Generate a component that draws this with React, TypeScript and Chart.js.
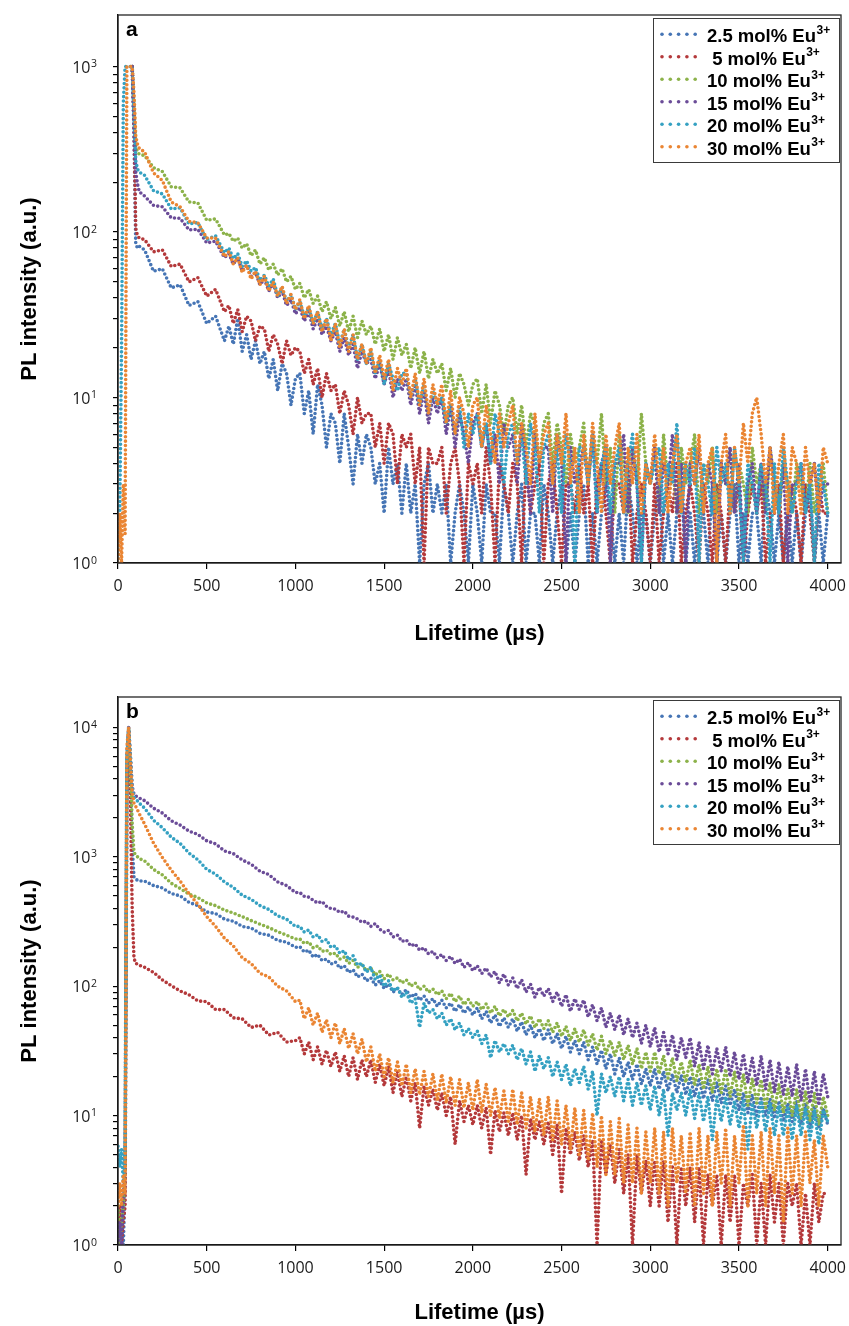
import React, { useEffect, useRef } from "react";
import { Chart, registerables } from "chart.js";

Chart.register(...registerables);

// ---------- time axes (µs) ----------
const TIME_A = [
  0, 10, 20, 30, 40, 50, 60, 70, 80, 90, 100, 110, 120,
  150, 200, 250, 300, 350, 400, 450, 500, 550, 600,
  625, 650, 675, 700, 725, 750, 775, 800,
  825, 850, 875, 900, 925, 950, 975, 1000,
  1025, 1050, 1075, 1100, 1125, 1150, 1175, 1200,
  1225, 1250, 1275, 1300, 1325, 1350, 1375, 1400,
  1425, 1450, 1475, 1500, 1525, 1550, 1575, 1600,
  1625, 1650, 1675, 1700, 1725, 1750, 1775, 1800,
  1825, 1850, 1875, 1900, 1925, 1950, 1975, 2000,
  2025, 2050, 2075, 2100, 2125, 2150, 2175, 2200,
  2225, 2250, 2275, 2300, 2325, 2350, 2375, 2400,
  2425, 2450, 2475, 2500, 2525, 2550, 2575, 2600,
  2625, 2650, 2675, 2700, 2725, 2750, 2775, 2800,
  2825, 2850, 2875, 2900, 2925, 2950, 2975, 3000,
  3025, 3050, 3075, 3100, 3125, 3150, 3175, 3200,
  3225, 3250, 3275, 3300, 3325, 3350, 3375, 3400,
  3425, 3450, 3475, 3500, 3525, 3550, 3575, 3600,
  3625, 3650, 3675, 3700, 3725, 3750, 3775, 3800,
  3825, 3850, 3875, 3900, 3925, 3950, 3975, 4000,
];

const TIME_B = [
  0, 10, 20, 30, 40, 50, 60, 70, 80, 90, 100, 110, 120,
  150, 200, 250, 300, 350, 400, 450, 500, 550, 600,
  650, 700, 750, 800, 850, 900, 950, 1000,
  1025, 1050, 1075, 1100, 1125, 1150, 1175, 1200,
  1225, 1250, 1275, 1300, 1325, 1350, 1375, 1400,
  1425, 1450, 1475, 1500, 1525, 1550, 1575, 1600,
  1625, 1650, 1675, 1700, 1725, 1750, 1775, 1800,
  1825, 1850, 1875, 1900, 1925, 1950, 1975, 2000,
  2025, 2050, 2075, 2100, 2125, 2150, 2175, 2200,
  2225, 2250, 2275, 2300, 2325, 2350, 2375, 2400,
  2425, 2450, 2475, 2500, 2525, 2550, 2575, 2600,
  2625, 2650, 2675, 2700, 2725, 2750, 2775, 2800,
  2825, 2850, 2875, 2900, 2925, 2950, 2975, 3000,
  3025, 3050, 3075, 3100, 3125, 3150, 3175, 3200,
  3225, 3250, 3275, 3300, 3325, 3350, 3375, 3400,
  3425, 3450, 3475, 3500, 3525, 3550, 3575, 3600,
  3625, 3650, 3675, 3700, 3725, 3750, 3775, 3800,
  3825, 3850, 3875, 3900, 3925, 3950, 3975, 4000,
];

const LEGEND_LABELS = ["2.5 mol% Eu", " 5 mol% Eu", "10 mol% Eu", "15 mol% Eu", "20 mol% Eu", "30 mol% Eu"];
const LEGEND_SUP = "3+";
const SERIES_COLORS = ["#4675b5", "#b4393b", "#8cb24a", "#6b4c98", "#35a1c2", "#ea8533"];

const X_TICKS = [0, 500, 1000, 1500, 2000, 2500, 3000, 3500, 4000];
const Y_TICKS_A = [1, 2, 3, 4, 5, 6, 7, 8, 9, 10, 20, 30, 40, 50, 60, 70, 80, 90, 100, 200, 300, 400, 500, 600, 700, 800, 900, 1000];
const Y_MAJOR_A = [1, 10, 100, 1000];
const Y_TICKS_B = [1, 2, 3, 4, 5, 6, 7, 8, 9, 10, 20, 30, 40, 50, 60, 70, 80, 90, 100, 200, 300, 400, 500, 600, 700, 800, 900, 1000, 2000, 3000, 4000, 5000, 6000, 7000, 8000, 9000, 10000];
const Y_MAJOR_B = [1, 10, 100, 1000, 10000];

// ---------- panel a (PL intensity, counts) ----------
const A_2_5 = [
  null, null, null, null, null, null, null, null, 1000, 400, 85, 80, 82,
  78, 58, 60, 46, 48, 36, 38, 28, 31, 22,
  27, 21, 30, 19, 24, 17, 22, 16,
  19, 13, 17, 11, 16, 14, 9, 13,
  14, 8, 11, 6, 12, 9, 5, 8,
  7, 4, 8, 5, 3, 6, 4, 6,
  5, 3, 4, 2, 5, 3, 4, 2,
  4, 2, 3, 1, 3, 4, 2, 3,
  2, 3, 1, 2, 3, 2, 1, 3,
  2, 1, 3, 2, 2, 1, 3, 2,
  1, 2, 3, 1, 2, 2, 1, 3,
  2, 1, 2, 3, 1, 2, 1, 2,
  3, 1, 2, 1, 2, 3, 2, 1,
  2, 1, 3, 2, 1, 2, 2, 1,
  2, 3, 1, 2, 1, 2, 3, 1,
  2, 1, 2, 2, 1, 3, 1, 2,
  1, 2, 3, 1, 2, 1, 2, 2,
  1, 3, 2, 1, 2, 1, 2, 1,
  2, 1, 2, 3, 1, 2, 1, 2,
];
const A_5 = [
  null, null, null, null, null, null, null, null, 1000, 450, 105, 95, 92,
  90, 76, 78, 62, 64, 50, 53, 41, 45, 33,
  36, 28, 34, 25, 31, 29, 22, 27,
  26, 19, 24, 21, 16, 22, 18, 20,
  19, 14, 17, 12, 15, 10, 14, 11,
  12, 8, 11, 9, 6, 10, 7, 8,
  8, 5, 7, 4, 7, 6, 3, 6,
  5, 6, 3, 5, 1, 5, 4, 4,
  5, 2, 4, 5, 3, 1, 4, 3,
  4, 2, 5, 3, 1, 4, 3, 2,
  4, 3, 1, 4, 2, 3, 4, 1,
  3, 4, 2, 1, 3, 3, 2, 4,
  2, 3, 1, 3, 4, 2, 1, 3,
  3, 2, 4, 1, 2, 3, 2, 1,
  3, 1, 2, 3, 2, 4, 1, 2,
  3, 2, 1, 3, 2, 1, 3, 2,
  1, 3, 2, 3, 1, 2, 3, 2,
  3, 1, 2, 2, 3, 1, 2, 3,
  2, 1, 3, 2, 1, 3, 2, 2,
];
const A_10 = [
  null, null, null, null, null, null, null, null, 1000, 600, 330, 305, 295,
  290, 245, 232, 188, 185, 152, 150, 118, 120, 96,
  98, 88, 92, 80, 85, 72, 78, 64,
  70, 59, 64, 55, 60, 50, 54, 45,
  49, 40, 45, 37, 41, 33, 38, 30,
  35, 27, 33, 25, 31, 23, 29, 24,
  27, 21, 26, 19, 24, 17, 23, 18,
  21, 15, 20, 14, 19, 13, 17, 14,
  16, 11, 15, 10, 14, 12, 9, 12,
  13, 8, 12, 7, 11, 9, 6, 9,
  10, 6, 9, 5, 8, 7, 4, 7,
  8, 4, 7, 5, 3, 6, 4, 5,
  7, 3, 6, 4, 8, 3, 5, 2,
  6, 4, 2, 5, 3, 8, 4, 3,
  5, 2, 6, 3, 4, 2, 5, 3,
  4, 6, 2, 4, 3, 5, 2, 4,
  3, 5, 2, 4, 3, 2, 5, 3,
  4, 2, 5, 3, 2, 4, 3, 2,
  4, 3, 2, 4, 2, 3, 4, 2,
];
const A_15 = [
  null, null, null, null, null, null, null, null, 1000, 500, 230, 195, 175,
  165, 145, 142, 122, 121, 103, 104, 86, 88, 70,
  74, 64, 70, 58, 63, 54, 57, 48,
  52, 44, 49, 40, 44, 36, 39, 32,
  35, 29, 33, 26, 30, 24, 27, 22,
  25, 19, 23, 18, 21, 15, 19, 16,
  17, 13, 16, 12, 15, 10, 13, 11,
  13, 9, 12, 8, 11, 7, 10, 8,
  10, 6, 9, 5, 8, 6, 4, 7,
  8, 5, 7, 4, 6, 3, 7, 5,
  6, 3, 7, 4, 2, 6, 4, 5,
  5, 2, 6, 4, 1, 5, 3, 4,
  5, 3, 6, 2, 4, 5, 1, 4,
  4, 6, 2, 5, 3, 1, 4, 3,
  5, 2, 4, 3, 6, 2, 4, 1,
  4, 3, 5, 2, 4, 3, 1, 4,
  3, 5, 2, 4, 1, 3, 4, 2,
  4, 2, 5, 3, 2, 4, 1, 3,
  3, 4, 2, 3, 4, 2, 3, 3,
];
const A_20 = [
  1, 2, 20, 600, 1000, 1000, 1000, 1000, 1000, 500, 270, 240, 230,
  220, 178, 170, 138, 140, 112, 114, 90, 95, 75,
  80, 69, 74, 62, 67, 58, 61, 51,
  55, 47, 52, 41, 46, 38, 42, 34,
  38, 31, 35, 28, 33, 26, 30, 24,
  28, 21, 26, 20, 24, 17, 21, 16,
  19, 14, 17, 12, 16, 13, 11, 14,
  14, 10, 13, 9, 12, 8, 11, 9,
  10, 7, 9, 6, 9, 5, 8, 6,
  8, 5, 7, 4, 8, 6, 3, 6,
  7, 4, 6, 3, 7, 5, 2, 5,
  6, 3, 5, 2, 6, 4, 1, 5,
  5, 3, 6, 2, 4, 5, 2, 4,
  5, 2, 4, 6, 3, 1, 4, 3,
  4, 5, 2, 4, 3, 7, 2, 4,
  3, 5, 1, 4, 3, 2, 5, 3,
  4, 2, 5, 3, 1, 4, 3, 2,
  4, 3, 1, 4, 2, 5, 3, 2,
  3, 4, 2, 3, 1, 4, 3, 2,
];
const A_30 = [
  1, 2, 1, 3, 1.5, 1000, 1000, 1000, 1000, 700, 380, 340, 320,
  305, 228, 205, 152, 142, 116, 114, 92, 92, 71,
  76, 64, 70, 57, 63, 52, 58, 48,
  54, 44, 50, 41, 47, 37, 42, 34,
  39, 30, 36, 28, 33, 25, 30, 22,
  28, 20, 26, 19, 24, 17, 21, 16,
  20, 14, 18, 13, 17, 11, 15, 12,
  15, 10, 14, 9, 13, 8, 12, 9,
  12, 7, 11, 6, 10, 8, 5, 9,
  10, 5, 9, 6, 4, 8, 5, 7,
  9, 4, 7, 5, 3, 8, 4, 6,
  7, 3, 6, 4, 8, 3, 5, 2,
  6, 3, 7, 4, 2, 6, 3, 5,
  7, 2, 5, 3, 6, 2, 4, 3,
  6, 3, 5, 2, 4, 6, 2, 4,
  5, 3, 6, 2, 4, 5, 1, 4,
  6, 2, 5, 3, 7, 4, 8, 10,
  6, 3, 5, 2, 4, 6, 2, 5,
  4, 2, 5, 3, 4, 2, 5, 4,
];

// ---------- panel b (PL intensity, counts) ----------
const B_2_5 = [
  1.5, 1, 2, 1, 3, 5000, 9800, 4000, 1200, 700, 670, 660, 650,
  650, 600, 575, 520, 500, 445, 420, 375, 365, 330,
  318, 290, 282, 256, 248, 226, 219, 200,
  202, 184, 190, 168, 176, 158, 162, 148,
  154, 138, 144, 128, 134, 118, 124, 110,
  116, 102, 110, 96, 104, 90, 96, 86,
  94, 82, 88, 78, 84, 74, 80, 70,
  78, 68, 74, 64, 72, 62, 69, 60,
  68, 56, 64, 52, 60, 49, 57, 48,
  56, 45, 53, 42, 50, 40, 47, 38,
  46, 36, 43, 33, 41, 31, 38, 30,
  37, 27, 34, 25, 32, 23, 30, 21,
  28, 20, 26, 19, 25, 17.5, 23, 17,
  23, 16, 22, 15.5, 21, 15, 20.5, 14.5,
  20, 14, 19.5, 13.5, 19, 13, 18, 12.5,
  17, 12, 16, 11, 15, 10.5, 14.5, 10,
  14, 10, 13.5, 9.5, 13, 9, 12.5, 9,
  13, 8.5, 12.5, 8, 12, 8, 11.5, 8.5,
];
const B_5 = [
  1, 2, 1, 1.5, 2, 3000, 9500, 2500, 400, 165, 150, 148, 145,
  140, 128, 112, 101, 92, 86, 77, 76, 66, 66,
  57, 56, 48, 50, 42, 44, 37, 38,
  40, 30, 37, 27, 34, 25, 32, 24,
  31, 22, 29, 20, 28, 19, 27, 20,
  27, 18, 25, 17, 24, 15, 22, 14,
  20, 13, 18, 8, 17, 12, 16, 11,
  15, 10, 14, 6, 13, 9, 12, 8.5,
  12, 8, 11.5, 5, 11, 7.5, 10.5, 7,
  10.5, 6.5, 10, 3.5, 9.5, 6.5, 9, 6,
  9, 5, 8.5, 2.5, 8, 5, 7.5, 4.5,
  7, 4, 6.5, 1, 6.5, 3.5, 6, 3,
  5.5, 2.5, 5, 1, 5, 2.5, 4.5, 2,
  4.5, 2, 4.5, 1.5, 4, 1, 4, 2,
  4, 1.5, 4, 1, 3.5, 2, 3.5, 1,
  3.5, 1.5, 3.5, 1, 3, 2, 3.5, 1,
  3, 1, 3.5, 1.5, 3, 1, 3, 2,
  3, 1, 2.5, 1, 3, 1.5, 2.5, 2.5,
];
const B_10 = [
  2, 1, 1.5, 2, 4, 5000, 9900, 5000, 1800, 1080, 1040, 1000, 970,
  930, 800, 725, 625, 570, 515, 485, 440, 420, 388,
  368, 345, 322, 302, 284, 264, 248, 232,
  232, 214, 220, 198, 205, 186, 190, 176,
  180, 162, 168, 150, 158, 140, 146, 132,
  138, 122, 130, 114, 124, 112, 116, 106,
  112, 100, 106, 94, 100, 90, 95, 86,
  92, 80, 88, 76, 84, 72, 79, 70,
  76, 66, 73, 62, 70, 59, 66, 58,
  65, 54, 62, 51, 59, 48, 56, 47,
  54, 44, 52, 41, 49, 38, 47, 37,
  46, 35, 43, 32, 41, 30, 38, 29,
  37, 27, 35, 25, 33, 23, 31, 22,
  31, 21, 29, 19.5, 28, 18.5, 26, 18,
  27, 17, 25, 16, 24, 15, 23, 15,
  23, 14, 22, 13, 21, 12, 19.5, 12.5,
  19, 11.5, 18, 11, 17.5, 10.5, 16.5, 10,
  16, 9.5, 15.5, 9, 15, 8.5, 14, 10,
];
const B_15 = [
  1, 1.5, 1, 2.5, 5, 6000, 10000, 6000, 3500, 3050, 2950, 2900, 2850,
  2720, 2380, 2180, 1900, 1760, 1580, 1490, 1330, 1260, 1110,
  1060, 945, 880, 775, 730, 640, 600, 530,
  530, 495, 488, 462, 440, 452, 415, 398,
  395, 372, 380, 348, 342, 331, 312, 318,
  290, 305, 276, 262, 270, 240, 248, 222,
  228, 205, 212, 190, 198, 178, 186, 166,
  176, 158, 170, 150, 162, 140, 152, 132,
  144, 125, 138, 118, 130, 106, 124, 102,
  116, 96, 112, 90, 104, 82, 98, 84,
  96, 76, 90, 70, 86, 64, 80, 66,
  78, 58, 72, 54, 68, 48, 62, 46,
  60, 42, 56, 40, 52, 36, 50, 34,
  48, 31, 44, 30, 42, 27, 40, 28,
  40, 24, 37, 23, 35, 21, 33, 22,
  34, 20, 31, 19, 30, 18, 28, 17,
  29, 16, 27, 15, 26, 14.5, 24, 14,
  25, 13, 23, 12.5, 22, 12, 21, 14,
];
const B_20 = [
  5.8, 4, 5.5, 3, 6, 6000, 9900, 6000, 3400, 2900, 2800, 2700, 2600,
  2380, 1920, 1680, 1420, 1270, 1070, 950, 800, 735, 640,
  580, 505, 470, 420, 392, 350, 330, 290,
  290, 262, 272, 240, 250, 222, 230, 200,
  205, 180, 188, 160, 172, 146, 150, 128,
  140, 112, 122, 100, 110, 92, 98, 82,
  90, 74, 80, 48, 74, 62, 66, 56,
  62, 50, 56, 46, 52, 42, 47, 40,
  45, 36, 42, 28, 38, 31, 36, 30,
  35, 27, 33, 25, 31, 22, 29, 23,
  28, 20, 26, 19, 25, 17, 23, 18,
  24, 16, 22, 10, 21, 15, 20, 14,
  20, 13, 19, 12, 18, 12, 17, 11,
  17, 10, 16, 7, 15, 11, 15, 10,
  16, 9.5, 15, 9, 14, 6.5, 14, 9,
  14, 8.5, 13, 8, 13, 5.5, 12.5, 8,
  13, 7.5, 12.5, 7, 12, 7, 11.5, 6.5,
  12, 7, 11.5, 6.5, 11, 6, 11, 9,
];
const B_30 = [
  2, 3, 2, 3.5, 2.5, 7000, 10000, 5500, 3200, 2600, 2450, 2300, 2150,
  1790, 1280, 990, 790, 650, 520, 430, 345, 290, 235,
  205, 166, 150, 126, 118, 100, 92, 76,
  78, 56, 68, 50, 62, 44, 55, 40,
  52, 36, 47, 33, 43, 30, 39, 26,
  34, 22, 30, 20, 28, 18, 26, 17,
  25, 15, 23, 14.5, 22, 14, 21, 13,
  21, 12.5, 20, 12, 19, 11.5, 18, 11,
  19, 10.5, 17.5, 10, 16.5, 9.5, 15.5, 9,
  16, 8.5, 15, 8, 14, 7.5, 13.5, 7,
  14, 6.5, 13, 6, 12, 5.5, 11.5, 5,
  11, 4.5, 10.5, 4, 10, 3.5, 9, 3.5,
  9.5, 3, 8.5, 3, 8, 2.5, 7.5, 3,
  8, 2.5, 7.5, 2, 8, 3, 7, 2.5,
  7.5, 2, 8, 2.5, 7, 2, 7.5, 3,
  8, 2, 7, 3, 8.5, 2, 7, 2.5,
  7.5, 2, 8, 2.5, 7, 1.5, 8, 2.5,
  7, 2, 7.5, 3, 6.5, 2, 7, 4,
];

const SERIES_A = [A_2_5, A_5, A_10, A_15, A_20, A_30];
const SERIES_B = [B_2_5, B_5, B_10, B_15, B_20, B_30];

const TITLE_FONT = '"Liberation Sans", Arial, sans-serif';
const TICK_FONT = '"Open Sans", sans-serif';

type PanelProps = {
  panel: string;
  times: number[];
  series: (number | null)[][];
  yMax: number;
  yTicks: number[];
  yMajor: number[];
  top: number;
  height: number;
  padTop: number;
  xAxisHeight: number;
  xTitlePadBottom: number;
};

function makeDecor(panel: string, yMajor: number[]) {
  return {
    id: "decor_" + panel,
    afterDraw(chart: any) {
      const { ctx, chartArea: ca } = chart;
      const ys = chart.scales.y;
      ctx.save();
      // plot frame
      ctx.strokeStyle = "#262626";
      ctx.lineWidth = 1.3;
      ctx.strokeRect(ca.left, ca.top, ca.right - ca.left, ca.bottom - ca.top);

      // y labels 10^n
      ctx.fillStyle = "#1a1a1a";
      ctx.textAlign = "right";
      ctx.textBaseline = "alphabetic";
      for (const v of yMajor) {
        const py = ys.getPixelForValue(v);
        const exp = String(Math.round(Math.log10(v)));
        ctx.font = "10.5px " + TICK_FONT;
        const ew = ctx.measureText(exp).width;
        const right = ca.left - 21;
        ctx.fillText(exp, right, py + 0.5);
        ctx.font = "16px " + TICK_FONT;
        ctx.fillText("10", right - ew - 0.5, py + 6);
      }

      // panel letter
      ctx.textAlign = "left";
      ctx.fillStyle = "#000";
      ctx.font = "bold 21px " + TITLE_FONT;
      ctx.fillText(panel, ca.left + 8, ca.top + 21);

      // legend
      const bw = 186;
      const bh = 144;
      const bx = ca.right - bw - 2;
      const by = ca.top + 3;
      ctx.fillStyle = "#fff";
      ctx.fillRect(bx, by, bw, bh);
      ctx.strokeStyle = "#3a3a3a";
      ctx.lineWidth = 1;
      ctx.strokeRect(bx + 0.5, by + 0.5, bw, bh);
      LEGEND_LABELS.forEach((lab, i) => {
        const base = by + 24.3 + 22.5 * i;
        ctx.fillStyle = SERIES_COLORS[i];
        for (let k = 0; k < 5; k++) {
          ctx.beginPath();
          ctx.arc(bx + 9 + 8.3 * k, base - 8, 1.8, 0, Math.PI * 2);
          ctx.fill();
        }
        ctx.fillStyle = "#000";
        ctx.font = "bold 18.5px " + TITLE_FONT;
        ctx.fillText(lab, bx + 54, base);
        const w = ctx.measureText(lab).width;
        ctx.font = "bold 12px " + TITLE_FONT;
        ctx.fillText(LEGEND_SUP, bx + 54 + w + 0.5, base - 8.5);
      });
      ctx.restore();
    },
  };
}

function Panel(props: PanelProps) {
  const ref = useRef<HTMLCanvasElement>(null);
  useEffect(() => {
    const datasets = props.series.map((vals, i) => ({
      label: LEGEND_LABELS[i],
      data: props.times.map((t, j) => ({ x: t, y: vals[j] })),
      borderColor: SERIES_COLORS[i],
      backgroundColor: SERIES_COLORS[i],
      borderWidth: 3.6,
      borderDash: [0, 4.4],
      borderCapStyle: "round",
      pointRadius: 0,
      fill: false,
      tension: 0,
      spanGaps: false,
      order: 5 - i,
    }));
    const chart = new Chart(ref.current as HTMLCanvasElement, {
      type: "line",
      data: { datasets } as any,
      options: {
        animation: false,
        responsive: false,
        events: [],
        layout: { padding: { left: 0, top: props.padTop, right: 8, bottom: 0 } },
        plugins: { legend: { display: false }, tooltip: { enabled: false } },
        scales: {
          x: {
            type: "linear",
            bounds: "data",
            min: 0,
            max: 4075,
            afterBuildTicks: (s: any) => {
              s.ticks = X_TICKS.map((v) => ({ value: v }));
            },
            afterFit: (s: any) => {
              s.height = props.xAxisHeight;
              s.paddingLeft = 0;
              s.paddingRight = 0;
            },
            ticks: {
              font: { family: TICK_FONT, size: 16 },
              color: "#1a1a1a",
              padding: 8,
              maxRotation: 0,
              autoSkip: false,
              callback: (v: any) => String(v),
            },
            grid: { drawOnChartArea: false, tickLength: 6, color: "#000", lineWidth: 1.2 },
            border: { color: "#000", width: 1.3 },
            title: {
              display: true,
              text: "Lifetime (µs)",
              font: { family: TITLE_FONT, size: 22, weight: "bold" },
              color: "#000",
              padding: { top: 0, bottom: props.xTitlePadBottom },
            },
          },
          y: {
            type: "logarithmic",
            bounds: "data",
            min: 1,
            max: props.yMax,
            afterBuildTicks: (s: any) => {
              s.ticks = props.yTicks.map((v) => ({ value: v }));
            },
            afterFit: (s: any) => {
              s.width = 118;
              s.paddingTop = 0;
              s.paddingBottom = 0;
            },
            ticks: { display: false },
            grid: { drawOnChartArea: false, tickLength: 5, color: "#000", lineWidth: 1.2 },
            border: { color: "#000", width: 1.3 },
            title: {
              display: true,
              text: "PL intensity (a.u.)",
              font: { family: TITLE_FONT, size: 22, weight: "bold" },
              color: "#000",
              padding: { top: 17, bottom: 0 },
            },
          },
        },
      } as any,
      plugins: [makeDecor(props.panel, props.yMajor)],
    });
    return () => chart.destroy();
  }, []);
  return (
    <canvas
      ref={ref}
      width={849}
      height={props.height}
      style={{ position: "absolute", left: 0, top: props.top, display: "block" }}
    />
  );
}

export default function App() {
  return (
    <div style={{ position: "absolute", left: 0, top: 0, width: 849, height: 1326, background: "#fff" }}>
      <Panel
        panel="a"
        times={TIME_A}
        series={SERIES_A}
        yMax={2050}
        yTicks={Y_TICKS_A}
        yMajor={Y_MAJOR_A}
        top={0}
        height={663}
        padTop={15}
        xAxisHeight={100}
        xTitlePadBottom={16}
      />
      <Panel
        panel="b"
        times={TIME_B}
        series={SERIES_B}
        yMax={17200}
        yTicks={Y_TICKS_B}
        yMajor={Y_MAJOR_B}
        top={663}
        height={663}
        padTop={34}
        xAxisHeight={81}
        xTitlePadBottom={0}
      />
    </div>
  );
}
